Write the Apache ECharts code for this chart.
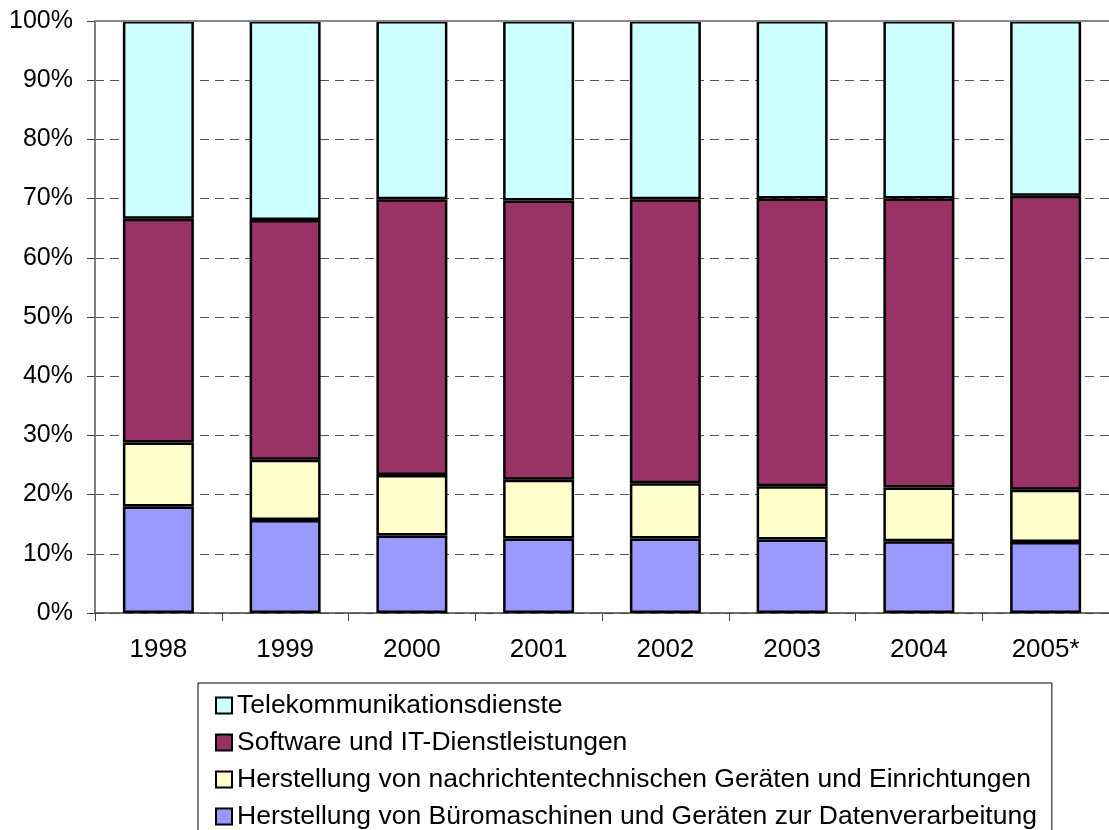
<!DOCTYPE html>
<html>
<head>
<meta charset="utf-8">
<script src="https://cdn.jsdelivr.net/npm/echarts@6/dist/echarts.min.js"></script>
<style>
  html, body { margin: 0; padding: 0; background: #fff; }
  #chart { width: 1109px; height: 830px; }
</style>
</head>
<body>
<div id="chart"></div>
<script>
// Jahre
var years = ['1998', '1999', '2000', '2001', '2002', '2003', '2004', '2005*']

// Anteile in % (von unten nach oben gestapelt)
var bueroValues = [18.0, 15.7, 13.1, 12.6, 12.6, 12.4, 12.1, 12.0]
var nachrichtenValues = [10.8, 10.2, 10.2, 9.9, 9.3, 9.0, 9.1, 8.8]
var softwareValues = [37.8, 40.5, 46.6, 47.2, 48.0, 48.6, 48.8, 49.7]
var telekomValues = [33.4, 33.6, 30.1, 30.3, 30.1, 30.0, 30.0, 29.5]

var seriesNames = [
  'Herstellung von Büromaschinen und Geräten zur Datenverarbeitung',
  'Herstellung von nachrichtentechnischen Geräten und Einrichtungen',
  'Software und IT-Dienstleistungen',
  'Telekommunikationsdienste',
]
var seriesColors = ['#9999FF', '#FFFFCC', '#993366', '#CCFFFF']
var seriesData = [bueroValues, nachrichtenValues, softwareValues, telekomValues]

var yTicks = { min: 0, max: 100, interval: 10 }

var chart = echarts.init(document.getElementById('chart'))
var font = 'Liberation Sans, Arial, sans-serif'

var series = seriesData.map(function (vals, i) {
  var s = {
    name: seriesNames[i],
    type: 'bar',
    stack: 'total',
    barWidth: 71,
    data: vals,
    itemStyle: {
      color: seriesColors[i],
      borderColor: '#000',
      borderWidth: 2.5,
    },
    emphasis: { disabled: true },
  }
  if (i === 0) {
    // obere Rahmenlinie bei 100%
    s.markLine = {
      silent: true,
      symbol: 'none',
      label: { show: false },
      lineStyle: { color: '#888', type: 'solid', width: 2 },
      data: [{ yAxis: yTicks.max }],
    }
  }
  return s
})

var option = {
  backgroundColor: '#fff',
  animation: false,
  textStyle: { fontFamily: font },
  grid: {
    left: 95,
    top: 21,
    width: 1020,
    height: 592,
  },
  legend: {
    orient: 'vertical',
    left: 198,
    top: 683,
    height: 200,
    itemWidth: 16,
    itemHeight: 16,
    itemGap: 10,
    padding: [9, 15, 12, 17],
    borderColor: '#000',
    borderWidth: 1,
    borderRadius: 0,
    icon: 'rect',
    itemStyle: { borderColor: '#000', borderWidth: 2 },
    textStyle: { fontSize: 26.5, color: '#000', fontFamily: font },
    data: seriesNames.slice().reverse(),
  },
  xAxis: {
    type: 'category',
    data: years,
    axisLine: { lineStyle: { color: '#444', width: 1.5 } },
    axisTick: { show: true, length: 8, lineStyle: { color: '#444' } },
    axisLabel: { fontSize: 26, color: '#000', margin: 24, fontFamily: font },
  },
  yAxis: {
    type: 'value',
    min: yTicks.min,
    max: yTicks.max,
    interval: yTicks.interval,
    axisLine: { show: true, lineStyle: { color: '#808080', width: 2 } },
    axisTick: { show: true, length: 8, lineStyle: { color: '#444' } },
    axisLabel: {
      fontSize: 25,
      color: '#000',
      margin: 22,
      fontFamily: font,
      formatter: '{value}%',
    },
    splitLine: {
      show: true,
      lineStyle: { color: '#555', type: [9, 6], width: 1 },
    },
  },
  series: series,
}

chart.setOption(option)
</script>
</body>
</html>
